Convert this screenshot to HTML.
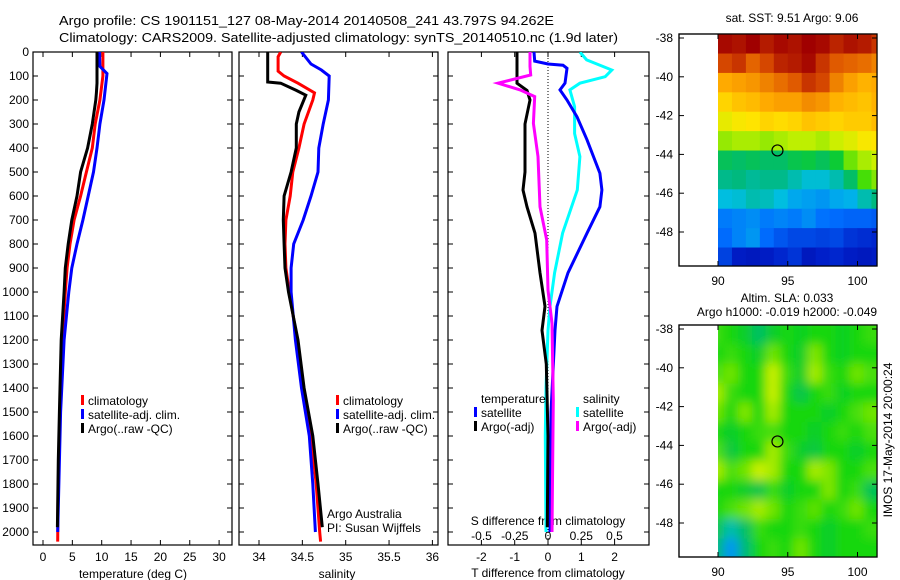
<!DOCTYPE html>
<html><head><meta charset="utf-8">
<style>
html,body{margin:0;padding:0;background:#fff;}
svg{display:block;font-family:"Liberation Sans",Arial,sans-serif;}
text{fill:#000;}
</style></head>
<body>
<svg id="fig" width="900" height="580" viewBox="0 0 900 580" xmlns="http://www.w3.org/2000/svg">
<defs>
<clipPath id="c1"><rect x="33" y="52" width="199" height="493"/></clipPath>
<clipPath id="c2"><rect x="239" y="52" width="199" height="493"/></clipPath>
<clipPath id="c3"><rect x="448" y="52" width="201" height="493"/></clipPath>
<clipPath id="cm1"><rect x="718" y="34" width="159" height="232"/></clipPath>
<clipPath id="cm2"><rect x="718" y="325" width="159" height="232"/></clipPath>
<filter id="blur" x="0" y="0" width="1" height="1"><feGaussianBlur stdDeviation="5"/></filter>
</defs>
<text x="59" y="25" font-size="13" textLength="495" lengthAdjust="spacingAndGlyphs">Argo profile: CS 1901151_127 08-May-2014 20140508_241 43.797S 94.262E</text>
<text x="59" y="42" font-size="13" textLength="559" lengthAdjust="spacingAndGlyphs">Climatology: CARS2009. Satellite-adjusted climatology: synTS_20140510.nc (1.9d later)</text>
<g id="g"></g>
</svg>
<script>
// ---------- data ----------
const depthTicks=[0,100,200,300,400,500,600,700,800,900,1000,1100,1200,1300,1400,1500,1600,1700,1800,1900,2000];
const tempTicks=[0,5,10,15,20,25,30];
const salTicks=[34,34.5,35,35.5,36];
const dTTicks=[-2,-1,0,1,2];
const dSTicks=[-0.5,-0.25,0,0.25,0.5];
const dSLabels=["-0.5","-0.25","0","0.25","0.5"];

const tArgoDepth=[0,60,130,170,200,300,400,500,600,700,800,900,1000,1200,1500,1700,1980];
const tArgoVal=[9.2,9.2,9.2,9.1,9.0,8.4,7.6,6.4,5.8,4.9,4.3,3.8,3.6,3.1,2.8,2.6,2.45];
const tClimDepth=[0,100,200,300,400,500,600,700,800,900,1000,1200,1500,1850,2040];
const tClimVal=[10.2,10.2,9.7,8.9,8.4,7.4,6.4,5.3,4.6,4.1,3.8,3.3,2.9,2.55,2.5];
const tSatDepth=[0,60,90,200,300,400,500,600,700,800,900,1000,1200,1500,2000];
const tSatVal=[9.6,9.7,10.9,10.4,9.7,9.2,8.6,7.7,6.8,5.8,4.9,4.4,3.6,3.0,2.5];

const sArgoDepth=[0,125,130,160,180,250,300,400,500,600,700,800,900,1000,1200,1400,1600,1800,1980];
const sArgoVal=[34.10,34.10,34.25,34.43,34.54,34.46,34.43,34.43,34.37,34.29,34.28,34.29,34.30,34.34,34.45,34.52,34.62,34.68,34.73];
const sClimDepth=[0,20,80,100,130,170,200,300,400,500,600,700,800,900,1000,1200,1400,1600,1800,2000,2040];
const sClimVal=[34.25,34.22,34.22,34.29,34.45,34.64,34.62,34.52,34.46,34.39,34.36,34.31,34.30,34.31,34.35,34.44,34.51,34.60,34.66,34.70,34.71];
const sSatDepth=[0,50,75,100,200,300,400,500,600,700,800,900,1000,1200,1400,1600,1800,2000];
const sSatVal=[34.49,34.60,34.72,34.81,34.80,34.74,34.69,34.68,34.60,34.51,34.40,34.37,34.37,34.42,34.49,34.58,34.62,34.65];

const dTArgoDepth=[0,130,160,200,300,500,575,645,755,920,1060,1160,1300,1600,1980];
const dTArgoVal=[-0.93,-0.93,-0.63,-0.54,-0.69,-0.69,-0.75,-0.63,-0.39,-0.24,-0.09,-0.18,-0.05,0,-0.02];
const dSArgoDepth=[0,60,96,130,158,186,297,436,645,783,992,1130,1450,2000];
const dSArgoVal=[-0.135,-0.135,-0.13,-0.375,-0.21,-0.1,-0.11,-0.075,-0.06,-0.01,0,0.03,0.04,0.03];
const dTSatDepth=[0,38,50,55,68,130,158,200,270,366,505,575,645,755,920,1060,1160,1500,2000];
const dTSatVal=[-0.42,-0.40,0,0.45,0.57,0.51,0.36,0.57,0.87,1.17,1.56,1.62,1.56,1.17,0.6,0.27,0.21,0.09,0.06];
const dSSatDepth=[0,33,75,103,130,158,228,340,436,575,755,920,1060,1160,1400,1600,2000];
const dSSatVal=[0.24,0.29,0.48,0.43,0.24,0.165,0.2,0.2,0.24,0.22,0.11,0.05,0.015,0,-0.015,-0.02,-0.015];

const latTicks=[-38,-40,-42,-44,-46,-48];
const lonTicks=[90,95,100];
const gridLons=[90,91,92,93,94,95,96,97,98,99,100,101];
const gridLats=[-37.8,-38.8,-39.8,-40.8,-41.8,-42.8,-43.8,-44.8,-45.8,-46.8,-47.8,-48.8];
const sst=[
[14.5,14.4,14.6,14.3,14.5,14.4,14.6,14.5,14.2,14.4,14.3,14.0],
[13.8,14.0,13.5,13.8,14.2,14.3,14.5,14.0,13.6,13.5,13.4,13.2],
[12.8,12.9,13.0,13.2,13.4,13.6,14.0,13.8,13.2,12.9,12.7,12.8],
[12.3,12.5,12.6,12.8,12.9,12.9,13.1,13.0,12.7,12.6,12.5,12.7],
[11.8,12.0,12.1,12.3,12.2,12.3,12.5,12.4,12.3,12.4,12.4,12.6],
[11.2,11.3,11.3,11.2,11.3,11.4,11.4,11.3,11.5,11.7,12.0,12.1],
[9.9,9.8,9.9,9.8,9.8,10.0,10.1,9.9,10.2,11.0,11.3,11.5],
[9.5,9.6,9.4,9.5,9.5,9.2,8.9,8.9,9.2,9.8,10.8,11.1],
[8.8,8.9,9.2,9.1,8.8,8.5,8.4,8.3,8.5,8.6,9.2,9.6],
[8.0,8.1,8.2,8.0,8.1,8.0,8.2,7.9,7.8,7.7,7.7,7.6],
[7.8,8.1,8.3,7.8,7.5,7.3,7.3,7.2,7.3,7.0,6.9,6.8],
[7.2,6.6,6.5,6.6,6.8,7.0,6.5,6.7,6.8,6.6,6.5,6.6]];
const sla=[
[0.02,0.0,-0.03,-0.08,-0.03,0.0,-0.02,0.0,0.0,-0.02,0.0,0.02],
[0.0,0.02,0.0,-0.03,0.05,0.0,-0.03,0.06,0.0,-0.02,0.0,0.0],
[0.03,0.05,0.0,0.0,0.1,0.02,-0.03,0.08,0.02,0.0,0.05,0.03],
[0.08,0.02,0.0,0.0,0.1,0.0,-0.06,0.0,0.02,-0.02,0.0,0.0],
[0.05,0.0,0.06,0.0,0.08,0.0,0.0,0.0,-0.03,0.0,0.03,0.05],
[0.0,-0.03,0.0,0.02,0.03,0.0,0.0,-0.03,0.0,0.02,0.0,0.03],
[0.03,-0.05,0.0,0.0,0.08,0.02,-0.03,-0.05,0.0,0.0,-0.03,0.0],
[0.08,0.03,0.05,0.1,0.08,0.0,0.0,0.08,0.06,0.0,0.0,0.03],
[0.0,0.0,-0.03,-0.06,0.02,-0.03,0.0,0.0,0.06,0.0,0.02,-0.07],
[0.0,0.03,0.05,0.08,0.05,0.0,0.02,0.04,0.0,0.02,0.05,0.0],
[-0.06,-0.15,-0.08,0.02,0.0,0.0,0.02,0.0,-0.03,0.0,0.0,0.02],
[-0.1,-0.25,-0.1,0.0,0.02,0.0,0.05,0.0,-0.03,0.0,0.0,0.0]];
const argoLon=94.262, argoLat=-43.797;

// ---------- helpers ----------
const NS="http://www.w3.org/2000/svg";
const G=document.getElementById('g');
function mk(tag,at,parent){const e=document.createElementNS(NS,tag);for(const k in at)e.setAttribute(k,at[k]);(parent||G).appendChild(e);return e;}
function txt(x,y,s,anchor,size,parent){const t=mk('text',{x:x,y:y,'font-size':size||12,'text-anchor':anchor||'start'},parent);t.textContent=s;return t;}
const yD=d=>52+d*0.24;
const xT=t=>43+t*5.87;
const xS=s=>259+(s-34)*86.7;
const xdT=v=>548+v*33.3;
const xdS=v=>548+v*133;
const mxLon=l=>718+(l-90)*13.95;
const my1=l=>38+(-38-l)*19.4;
const my2=l=>329+(-38-l)*19.4;

const panels=[[33,232,'temperature-panel'],[239,438,'salinity-panel'],[448,649,'difference-panel']];
panels.forEach(p=>{
  const r=mk('rect',{x:p[0],y:52,width:p[1]-p[0],height:493,fill:'none',stroke:'#000','stroke-width':1.2});
  
  
  depthTicks.forEach(d=>{
    mk('line',{x1:p[0],x2:p[0]+5,y1:yD(d),y2:yD(d),stroke:'#000'});
    mk('line',{x1:p[1]-5,x2:p[1],y1:yD(d),y2:yD(d),stroke:'#000'});
  });
});
depthTicks.forEach(d=>{
  const t=txt(29,yD(d)+4,String(d),'end',12);
  
  
});
function xTicks(ticks,fx,labels,ly){
  ticks.forEach((v,i)=>{
    mk('line',{x1:fx(v),x2:fx(v),y1:545,y2:540,stroke:'#000'});
    mk('line',{x1:fx(v),x2:fx(v),y1:52,y2:57,stroke:'#000'});
    if(labels){const t=txt(fx(v),ly,labels[i],'middle',12);
      
      }
  });
}
xTicks(tempTicks,xT,tempTicks.map(String),561);
xTicks(salTicks,xS,salTicks.map(String),561);
xTicks(dTTicks,xdT,dTTicks.map(String),561);
dSTicks.forEach((v,i)=>{const t=txt(xdS(v),540,dSLabels[i],'middle',12);
  
  });
let a;
a=txt(133,578,'temperature (deg C)','middle',12);
a=txt(337,578,'salinity','middle',12);
a=txt(548,577,'T difference from climatology','middle',12);
a=txt(548,525,'S difference from climatology','middle',12);
mk('line',{x1:xdT(0),x2:xdT(0),y1:52,y2:545,stroke:'#000','stroke-dasharray':'1,2'});

function profile(depths,vals,fx,color,clip,name,w){
  const pts=depths.map((d,i)=>fx(vals[i]).toFixed(1)+','+yD(d).toFixed(1)).join(' ');
  const pl=mk('polyline',{points:pts,fill:'none',stroke:color,'stroke-width':w||3,'clip-path':'url(#'+clip+')','stroke-linejoin':'miter'});
  
  
}
profile(tClimDepth,tClimVal,xT,'#f00','c1','temp-climatology-line');
profile(tSatDepth,tSatVal,xT,'#00f','c1','temp-satellite-line');
profile(tArgoDepth,tArgoVal,xT,'#000','c1','temp-argo-line');
profile(sClimDepth,sClimVal,xS,'#f00','c2','sal-climatology-line');
profile(sSatDepth,sSatVal,xS,'#00f','c2','sal-satellite-line');
profile(sArgoDepth,sArgoVal,xS,'#000','c2','sal-argo-line');
profile(dSSatDepth,dSSatVal,xdS,'#0ff','c3','s-diff-satellite-line');
profile(dTSatDepth,dTSatVal,xdT,'#00f','c3','t-diff-satellite-line');
profile(dTArgoDepth,dTArgoVal,xdT,'#000','c3','t-diff-argo-line');
profile(dSArgoDepth,dSArgoVal,xdS,'#f0f','c3','s-diff-argo-line');

function legendEntry(x,y,color,label){
  const g=mk('g',{});
  
  
  if(color) mk('rect',{x:x,y:y-10,width:3,height:10,fill:color},g);
  txt(x+7,y,label,'start',12,g);
}
legendEntry(81,405,'#f00','climatology');
legendEntry(81,419,'#00f','satellite-adj. clim.');
legendEntry(81,433,'#000','Argo(..raw -QC)');
legendEntry(336,405,'#f00','climatology');
legendEntry(336,419,'#00f','satellite-adj. clim.');
legendEntry(336,433,'#000','Argo(..raw -QC)');
legendEntry(474,403,null,'temperature');
legendEntry(474,417,'#00f','satellite');
legendEntry(474,431,'#000','Argo(-adj)');
legendEntry(576,403,null,'salinity');
legendEntry(576,417,'#0ff','satellite');
legendEntry(576,431,'#f0f','Argo(-adj)');
a=txt(327,518,'Argo Australia','start',12);
a=txt(327,532,'PI: Susan Wijffels','start',12);

// ---------- maps ----------
const stops=[[0,0,0,140],[0.12,0,30,200],[0.25,0,110,255],[0.35,0,190,230],[0.45,0,185,120],[0.55,20,215,10],[0.65,200,240,0],[0.72,255,230,0],[0.8,255,170,0],[0.9,220,80,0],[1,160,0,0]];
function cmap(t){t=Math.max(0,Math.min(1,t));for(let i=1;i<stops.length;i++){if(t<=stops[i][0]){const a=stops[i-1],b=stops[i],f=(t-a[0])/(b[0]-a[0]);return 'rgb('+[1,2,3].map(k=>Math.round(a[k]+(b[k]-a[k])*f)).join(',')+')';}}return 'rgb(160,0,0)';}
function drawMap(top,bottom,my,grid,norm,clip,name,blur){
  const fr=mk('rect',{x:679,y:top,width:198,height:bottom-top,fill:'#fff',stroke:'#000','stroke-width':1.2});
  
  
  const cg=mk('g',{'clip-path':'url(#'+clip+')'});
  const inner=mk('g',blur?{filter:'url(#blur)'}:{},cg);
  
  
  grid.forEach((row,r)=>row.forEach((v,c)=>{
    const x0=mxLon(gridLons[c]),y0=my(gridLats[r]);
    const cell=mk('rect',{x:x0-(blur?8:0),y:y0-(blur&&r==0?8:0),width:14.4+(blur?16:0),height:19.9+(blur&&r==0?8:0)+(blur&&r==grid.length-1?10:0),fill:cmap(norm(v))},inner);
    
    
  }));
  mk('rect',{x:679,y:top,width:198,height:bottom-top,fill:'none',stroke:'#000','stroke-width':1.2});
  latTicks.forEach(l=>{mk('line',{x1:679,x2:684,y1:my(l),y2:my(l),stroke:'#000'});mk('line',{x1:872,x2:877,y1:my(l),y2:my(l),stroke:'#000'});
    const t=txt(673,my(l)+4,String(l),'end',12);});
  lonTicks.forEach(l=>{mk('line',{x1:mxLon(l),x2:mxLon(l),y1:bottom,y2:bottom-5,stroke:'#000'});mk('line',{x1:mxLon(l),x2:mxLon(l),y1:top,y2:top+5,stroke:'#000'});});
  const m=mk('circle',{cx:mxLon(argoLon),cy:my(argoLat),r:5.5,fill:'none',stroke:'#000','stroke-width':1.2});
  
  
}
drawMap(34,266,my1,sst,v=>(v-5.6)/9,'cm1','sst-map',false);
drawMap(325,557,my2,sla,v=>0.55+v,'cm2','sla-map',true);
lonTicks.forEach(l=>{
  const t=txt(mxLon(l),285,String(l),'middle',12);
  const t2=txt(mxLon(l),576,String(l),'middle',12);
});
a=txt(792,22,'sat. SST: 9.51 Argo: 9.06','middle',12);
a=txt(787,302,'Altim. SLA: 0.033','middle',12);
a=txt(787,316,'Argo h1000: -0.019 h2000: -0.049','middle',12);
a=txt(0,0,'IMOS 17-May-2014 20:00:24','middle',12);a.setAttribute('transform','translate(892,440) rotate(-90)');
</script>
</body></html>
